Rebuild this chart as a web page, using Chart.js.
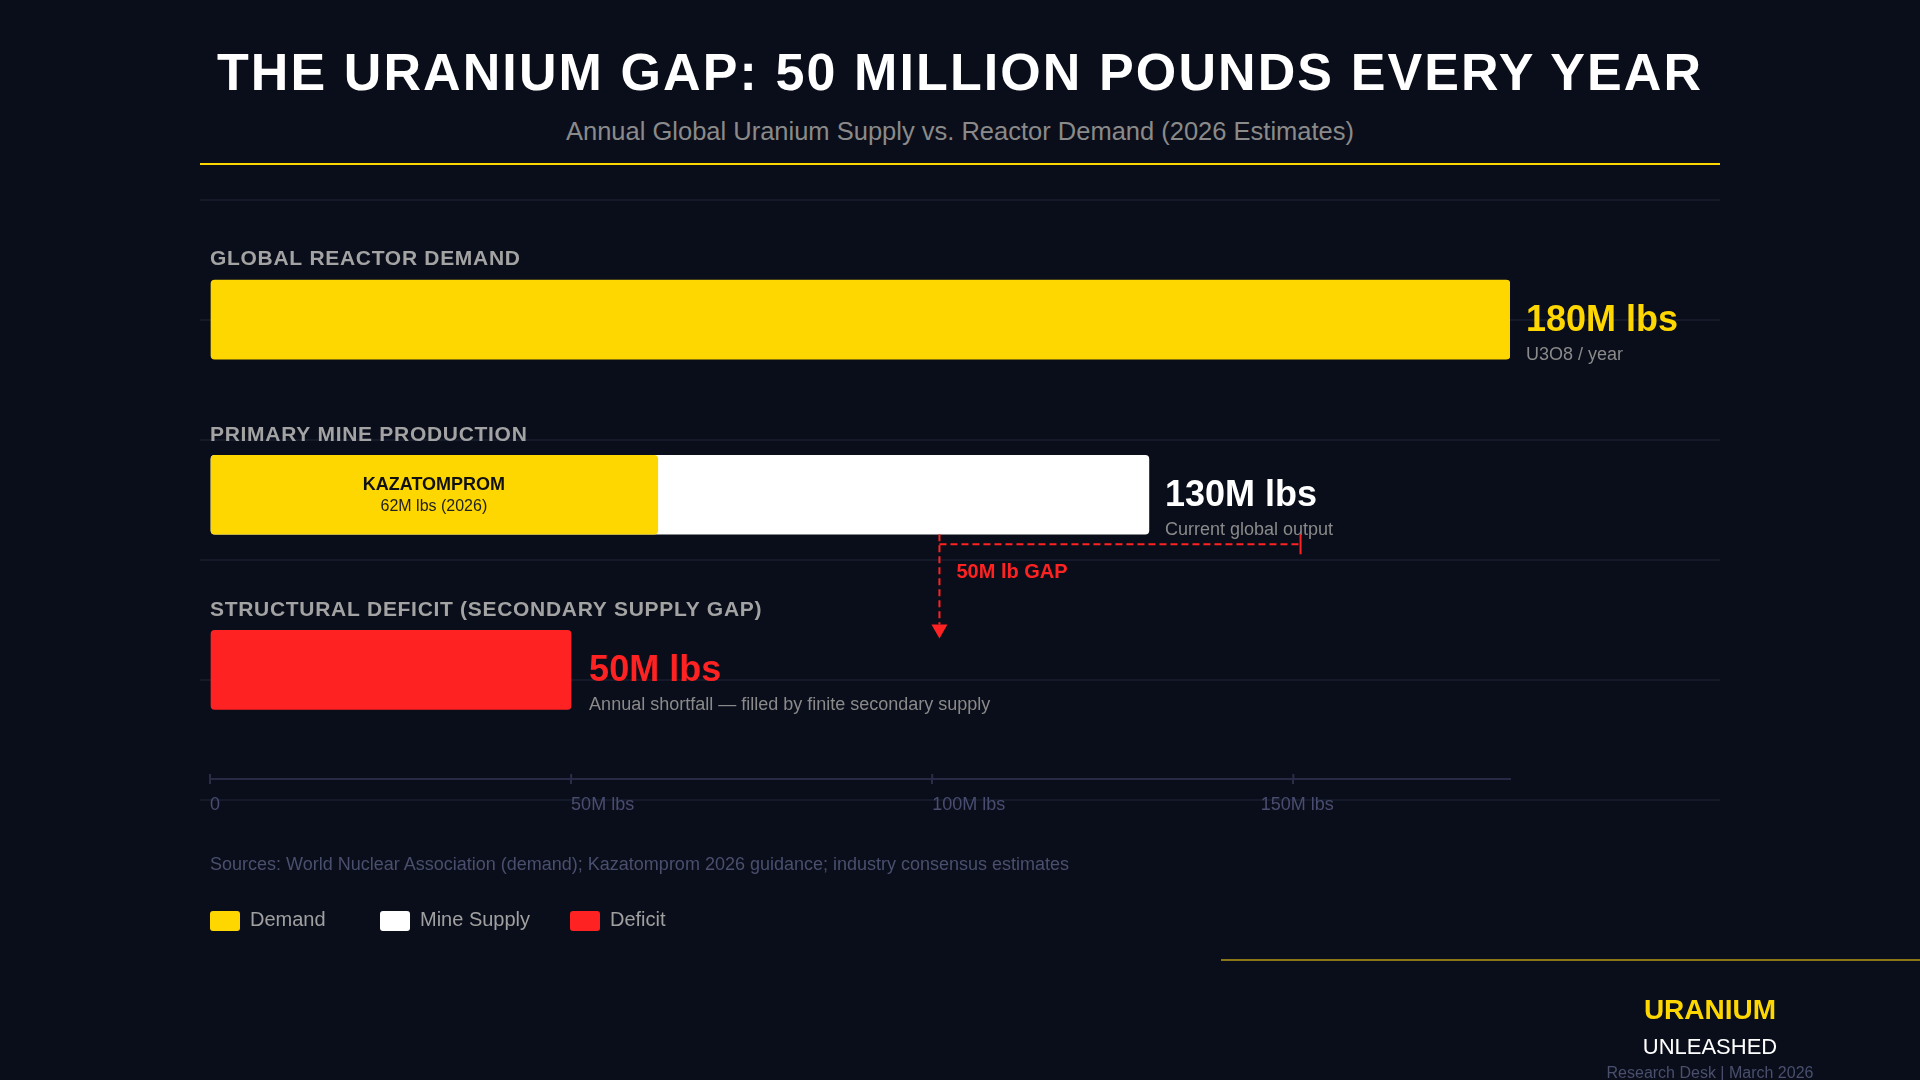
<!DOCTYPE html>
<html>
<head>
<meta charset="utf-8">
<title>The Uranium Gap</title>
<script src="https://cdn.jsdelivr.net/npm/chart.js@4.4.1/dist/chart.umd.min.js"></script>
<style>
  html, body { margin: 0; padding: 0; }
  body {
    width: 1920px; height: 1080px; position: relative; overflow: hidden;
    background: #0a0e1a;
    font-family: "Liberation Sans", Arial, Helvetica, sans-serif;
  }
  .abs { position: absolute; white-space: nowrap; line-height: 1; margin: 0; }
  #title { left: 0; width: 1920px; top: 46px; text-align: center; font-size: 52px; font-weight: bold; color: #ffffff; letter-spacing: 2.1px; }
  #subtitle { left: 0; width: 1920px; top: 119px; text-align: center; font-size: 25.5px; color: #8a8a8a; }
  #rule { left: 200px; top: 163px; width: 1520px; height: 2px; background: #FFD700; }
  #bgLines {
    left: 200px; top: 199px; width: 1520px; height: 604px;
    background: repeating-linear-gradient(to bottom, #141a2a 0, #141a2a 2px, transparent 2px, transparent 120px);
  }
  #reviewsChart { position: absolute; left: 0; top: 0; }
  #sources { left: 210px; top: 855px; font-size: 18px; color: #4a4f6e; }
  .swatch { position: absolute; top: 911px; width: 30px; height: 20px; border-radius: 3px; }
  .legendText { top: 909px; font-size: 20px; color: #a0a0a0; }
  #footRule { left: 1221px; top: 959px; width: 699px; height: 2px; background: #8a7616; }
  .foot { left: 1560px; width: 300px; text-align: center; }
  #brand1 { top: 996px; font-size: 28px; font-weight: bold; color: #FFD700; }
  #brand2 { top: 1036px; font-size: 22px; color: #ffffff; }
  #brand3 { top: 1065px; font-size: 16px; color: #4a4f6e; }
</style>
</head>
<body>
  <h1 class="abs" id="title">THE URANIUM GAP: 50 MILLION POUNDS EVERY YEAR</h1>
  <div class="abs" id="subtitle">Annual Global Uranium Supply vs. Reactor Demand (2026 Estimates)</div>
  <div class="abs" id="rule"></div>
  <div class="abs" id="bgLines"></div>

  <canvas id="reviewsChart" width="1920" height="1080"></canvas>

  <div class="abs" id="sources">Sources: World Nuclear Association (demand); Kazatomprom 2026 guidance; industry consensus estimates</div>
  <div id="legend"></div>

  <div class="abs" id="footRule"></div>
  <div class="abs foot" id="brand1">URANIUM</div>
  <div class="abs foot" id="brand2">UNLEASHED</div>
  <div class="abs foot" id="brand3">Research Desk | March 2026</div>

<script>
  // rows, top to bottom
  const sectionLabels = ["GLOBAL REACTOR DEMAND", "PRIMARY MINE PRODUCTION", "STRUCTURAL DEFICIT (SECONDARY SUPPLY GAP)"];
  const rowTotals = [180, 130, 50];
  const valueLabels = ["180M lbs", "130M lbs", "50M lbs"];
  const valueNotes = ["U3O8 / year", "Current global output", "Annual shortfall \u2014 filled by finite secondary supply"];

  // series (million lbs)
  const demand = [180];
  const mineSupply = [130];
  const kazatomprom = [62];
  const deficit = [50];
  const kazatompromLabel = ["KAZATOMPROM", "62M lbs (2026)"];

  // gap bracket under the mine bar
  const gapRange = [101, 151];
  const gapLabel = "50M lb GAP";

  // x axis
  const tickValues = [0, 50, 100, 150];
  const tickLabels = ["0", "50M lbs", "100M lbs", "150M lbs"];

  const legendLabels = ["Demand", "Mine Supply", "Deficit"];

  const YELLOW = "#FFD700";
  const WHITE = "#ffffff";
  const RED = "#ff2222";
  const FONT = '"Liberation Sans", Arial, sans-serif';
  const BAR = 79;

  // legend (html)
  const legendColors = [YELLOW, WHITE, RED];
  const legendLeft = [210, 380, 570];
  const legendEl = document.getElementById("legend");
  legendLabels.forEach((name, i) => {
    const sw = document.createElement("div");
    sw.className = "swatch";
    sw.style.left = legendLeft[i] + "px";
    sw.style.background = legendColors[i];
    const tx = document.createElement("div");
    tx.className = "abs legendText";
    tx.style.left = (legendLeft[i] + 40) + "px";
    tx.textContent = name;
    legendEl.appendChild(sw);
    legendEl.appendChild(tx);
  });

  const annotations = {
    id: "gapAnnotations",
    afterDatasetsDraw(chart) {
      const { ctx, scales: { x, y } } = chart;
      const half = BAR / 2;
      ctx.save();
      ctx.textBaseline = "middle";
      ctx.textAlign = "left";

      const valueColors = [YELLOW, WHITE, RED];
      const valueGap = [16, 16, 18];
      sectionLabels.forEach((label, i) => {
        const cy = y.getPixelForValue(i);
        ctx.font = "bold 21px " + FONT;
        ctx.letterSpacing = "0.7px";
        ctx.fillStyle = "#a3a3a3";
        ctx.fillText(label, x.left, cy - half - 20.5);
        ctx.letterSpacing = "0px";

        const vx = x.getPixelForValue(rowTotals[i]) + valueGap[i];
        ctx.font = "bold 36px " + FONT;
        ctx.fillStyle = valueColors[i];
        ctx.fillText(valueLabels[i], vx, cy + 1);
        ctx.font = "18px " + FONT;
        ctx.fillStyle = "#8a8a8a";
        ctx.fillText(valueNotes[i], vx, cy + 35);
      });

      // label inside kazatomprom segment
      const kx = x.getPixelForValue(kazatomprom[0] / 2);
      const ky = y.getPixelForValue(1);
      ctx.textAlign = "center";
      ctx.font = "bold 18px " + FONT;
      ctx.fillStyle = "#111111";
      ctx.fillText(kazatompromLabel[0], kx, ky - 10);
      ctx.font = "16px " + FONT;
      ctx.fillStyle = "#222222";
      ctx.fillText(kazatompromLabel[1], kx, ky + 12);

      // gap bracket + arrow
      const gx1 = x.getPixelForValue(gapRange[0]);
      const gx2 = x.getPixelForValue(gapRange[1]);
      const top = y.getPixelForValue(1) + half;
      const tip = y.getPixelForValue(2) - half + 8;
      ctx.strokeStyle = RED;
      ctx.fillStyle = RED;
      ctx.lineWidth = 2;
      ctx.setLineDash([7, 4]);
      ctx.beginPath();
      ctx.moveTo(gx1, top);
      ctx.lineTo(gx1, tip - 14);
      ctx.moveTo(gx1, top + 10);
      ctx.lineTo(gx2, top + 10);
      ctx.stroke();
      ctx.setLineDash([]);
      ctx.beginPath();
      ctx.moveTo(gx2, top);
      ctx.lineTo(gx2, top + 20);
      ctx.stroke();
      ctx.beginPath();
      ctx.moveTo(gx1 - 8, tip - 14);
      ctx.lineTo(gx1 + 8, tip - 14);
      ctx.lineTo(gx1, tip);
      ctx.closePath();
      ctx.fill();
      ctx.textAlign = "left";
      ctx.font = "bold 20px " + FONT;
      ctx.fillText(gapLabel, gx1 + 17, top + 38);

      // axis: upper half of tick marks and tick labels
      const axisY = chart.chartArea.bottom;
      const tickAlign = ["left", "left", "left", "center"];
      const tickShift = [0, 0, 0, 4];
      ctx.strokeStyle = "#2a2d48";
      ctx.lineWidth = 2;
      ctx.font = "18px " + FONT;
      ctx.fillStyle = "#4a4d70";
      x.ticks.forEach((t, i) => {
        const px = x.getPixelForValue(t.value);
        ctx.beginPath();
        ctx.moveTo(px, axisY - 5);
        ctx.lineTo(px, axisY);
        ctx.stroke();
        ctx.textAlign = tickAlign[i];
        ctx.fillText(tickLabels[i], px + tickShift[i], axisY + 26.5);
      });
      ctx.restore();
    }
  };

  const data = {
    datasets: [
      { label: "Kazatomprom", data: kazatomprom.map(v => ({ x: v, y: 1 })), backgroundColor: YELLOW },
      { label: "Demand", data: demand.map(v => ({ x: v, y: 0 })), backgroundColor: YELLOW },
      { label: "Mine Supply", data: mineSupply.map(v => ({ x: v, y: 1 })), backgroundColor: WHITE },
      { label: "Deficit", data: deficit.map(v => ({ x: v, y: 2 })), backgroundColor: RED }
    ]
  };

  const config = {
    type: "bar",
    data: data,
    options: {
      indexAxis: "y",
      responsive: false,
      animation: false,
      datasets: {
        bar: {
          grouped: false,
          barThickness: BAR,
          borderRadius: 4,
          borderSkipped: false
        }
      },
      layout: {
        padding: { left: 210, right: 410, top: 200, bottom: 261 }
      },
      plugins: {
        legend: { display: false },
        tooltip: { enabled: false }
      },
      scales: {
        x: {
          type: "linear",
          position: "bottom",
          min: 0,
          max: 180,
          afterBuildTicks: scale => {
            scale.ticks = tickValues.map(v => ({ value: v }));
          },
          afterFit: scale => {
            scale.height = 40;
          },
          border: { display: true, color: "#262a45", width: 2 },
          grid: { drawOnChartArea: false, color: "#2a2d48", lineWidth: 2, tickLength: 5 },
          ticks: { display: false }
        },
        y: {
          type: "linear",
          display: false,
          offset: false,
          grid: { offset: false },
          reverse: true,
          min: -0.683,
          max: 2.623
        }
      }
    },
    plugins: [annotations]
  };

  const ctx = document.getElementById("reviewsChart").getContext("2d");
  new Chart(ctx, config);
</script>
</body>
</html>
